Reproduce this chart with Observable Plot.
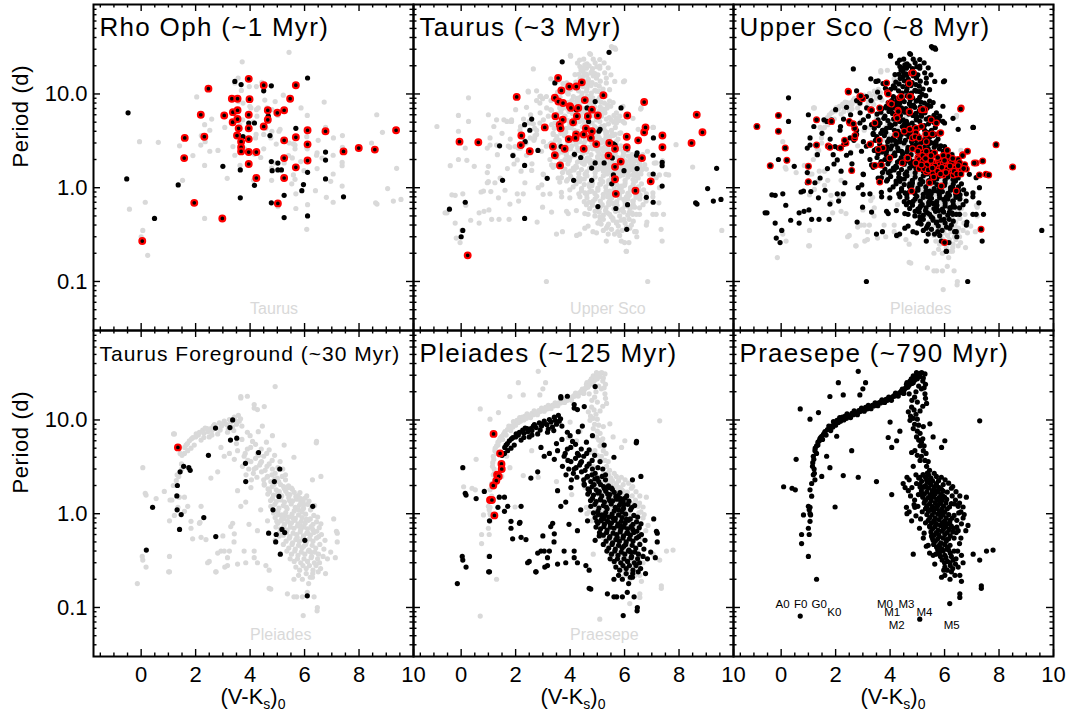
<!DOCTYPE html>
<html><head><meta charset="utf-8">
<script src="https://cdn.jsdelivr.net/npm/d3@7"></script>
<script src="https://cdn.jsdelivr.net/npm/@observablehq/plot@0.6"></script>
<style>
body{margin:0;background:#fff;}
#wrap{position:relative;width:1073px;height:721px;font-family:"Liberation Sans",Arial,sans-serif;}
.xlab{position:absolute;top:688px;width:320px;text-align:center;font-size:22px;line-height:18px;color:#000;}
.xlab sub{font-size:14px;vertical-align:-5px;line-height:0;}
</style></head><body><div id="wrap"></div>
<script>
// ---------------- tick values ----------------
const xMajor = [0, 2, 4, 6, 8, 10];
const xMinor = [-1.5,-1,-0.5,0.5,1,1.5,2.5,3,3.5,4.5,5,5.5,6.5,7,7.5,8.5,9,9.5];
const yMajor = [0.1, 1, 10];
const yMinor = [0.04,0.05,0.06,0.07,0.08,0.09,0.2,0.3,0.4,0.5,0.6,0.7,0.8,0.9,2,3,4,5,6,7,8,9,20,30,40,50,60,70,80];

// ---------------- data: [V-Ks, Period (d)] ----------------
const rhoOph = [[-0.48,6.3],[-0.53,1.24],[0.49,0.47],[1.36,1.07],[3.0,1.69],[3.44,13.6],[3.67,12.6],[4.5,10.8],[4.78,12.2],[6.11,14.8],[3.95,4.9],[4.16,4.9],[4.67,5.8],[4.73,3.6],[5.68,4.3],[6.77,2.4],[6.77,1.97],[4.78,1.9],[5.02,1.83],[4.81,1.52],[5.02,1.55],[5.15,1.55],[3.64,1.55],[6.11,1.46],[4.16,1.06],[5.96,1.08],[5.9,0.93],[6.77,1.24],[3.64,0.78],[4.78,0.69],[5.25,0.83],[5.25,0.48],[6.11,0.5],[7.43,0.8],[3.58,3.65],[3.74,3.5]];
const rhoOphDisk = [[3.95,14.5],[2.47,11.4],[4.5,12.4],[5.68,12.4],[3.33,8.9],[3.54,8.9],[3.98,8.8],[5.47,8.9],[2.19,6.0],[3.05,5.9],[3.37,6.4],[3.54,6.7],[3.95,6.0],[4.65,6.7],[5.25,6.7],[5.0,6.3],[3.36,5.0],[3.54,5.4],[4.65,5.3],[4.5,4.5],[3.58,4.3],[3.95,4.3],[1.6,3.4],[2.32,3.5],[3.52,3.6],[3.95,3.3],[3.67,3.1],[3.67,2.7],[3.67,2.44],[3.95,2.4],[4.23,2.4],[5.25,3.2],[5.68,3.45],[6.11,4.1],[6.77,4.0],[6.11,2.9],[7.43,2.44],[7.99,2.65],[8.58,2.55],[9.36,4.1],[1.58,2.07],[5.25,2.07],[3.95,1.79],[5.68,1.65],[6.11,1.95],[4.23,1.27],[5.25,1.27],[1.95,0.69],[5.02,0.68],[2.98,0.47],[0.04,0.27]];

const taurus = [[5.43,27.8],[3.71,22],[3.44,13.1],[2.59,5.4],[2.33,4.7],[2.52,4.1],[2.35,3.1],[2.82,2.5],[1.9,2.2],[1.41,2.8],[2.33,1.73],[1.52,1.2],[0.15,0.7],[-0.43,0.59],[0.06,0.35],[0.0,0.3],[2.33,0.47],[3.16,1.26],[3.67,2.75],[4.16,2.27],[4.39,2.1],[4.13,1.2],[4.79,1.2],[4.79,1.62],[4.92,1.84],[4.92,8.3],[4.23,6.8],[4.62,7.1],[4.68,5.1],[5.06,4.0],[5.1,4.2],[5.25,1.84],[5.55,2.08],[5.65,2.85],[5.87,7.1],[6.1,2.6],[6.46,2.35],[6.44,2.22],[6.46,1.6],[7.06,3.4],[7.05,2.22],[7.05,1.4],[7.38,1.86],[7.38,1.72],[7.38,1.04],[5.59,1.37],[5.98,1.52],[5.53,1.1],[5.02,0.63],[5.68,0.6],[6.11,0.66],[6.8,0.79],[7.05,0.7],[6.08,0.36],[8.61,0.69],[8.66,0.67],[9.05,0.98],[9.26,0.72],[9.38,1.61],[9.54,0.75],[5.59,2.93]];
const taurusDisk = [[-0.06,3.1],[0.63,3.05],[0.24,0.19],[2.04,9.3],[3.07,4.4],[2.21,3.6],[2.19,2.85],[2.52,2.45],[3.37,2.75],[3.44,2.22],[3.63,1.73],[3.8,2.6],[3.56,14.8],[3.68,10.9],[3.44,9.1],[3.57,8.3],[3.97,12.0],[4.23,12.0],[4.43,13.3],[3.74,8.0],[3.99,7.4],[4.03,7.1],[4.3,7.1],[3.46,5.8],[3.73,5.3],[3.62,4.7],[3.65,4.3],[4.11,5.0],[4.25,5.8],[4.54,8.6],[4.8,6.8],[4.65,5.8],[5.02,5.9],[5.22,9.7],[4.58,4.3],[4.8,4.0],[4.22,3.7],[3.95,3.3],[4.2,3.4],[4.5,3.7],[4.76,3.4],[4.96,2.92],[4.5,2.6],[5.44,3.0],[5.65,2.6],[6.08,2.7],[6.08,3.5],[6.5,3.2],[6.72,3.9],[6.77,4.4],[6.1,5.9],[6.72,8.2],[7.39,3.6],[7.39,2.7],[5.41,2.2],[5.65,1.67],[5.86,1.9],[5.65,1.23],[5.68,0.86],[6.64,2.07],[6.4,0.93],[6.96,1.17],[8.46,3.0],[8.65,6.0],[8.86,3.9]];

const upperSco = [[2.65,18.5],[0.27,9.1],[0.27,5.1],[-0.1,2.0],[0.48,1.69],[-0.34,0.84],[-0.22,0.83],[-0.59,0.54],[-0.52,0.54],[0.06,0.86],[0.17,0.65],[-0.22,0.42],[0.02,0.35],[-0.18,0.29],[-0.04,0.26],[0.35,0.45],[0.66,0.42],[0.66,0.54],[0.84,0.56],[1.02,0.58],[0.82,0.92],[0.73,0.9],[1.09,0.91],[1.12,0.46],[1.39,0.46],[1.76,0.46],[0.96,1.13],[0.96,1.45],[0.96,2.65],[1.06,3.4],[1.0,6.0],[1.06,2.85],[1.33,2.25],[1.24,1.13],[1.43,1.27],[1.37,0.78],[1.57,5.3],[1.61,0.94],[1.79,0.67],[1.85,5.3],[1.91,2.25],[1.94,1.79],[2.06,1.98],[2.1,2.65],[2.34,1.13],[2.06,0.86],[2.28,0.86],[2.11,0.72],[2.18,4.5],[2.29,5.4],[2.55,6.0],[2.77,10.8],[2.89,8.0],[3.13,9.4],[2.89,4.9],[3.07,4.4],[2.77,3.7],[2.67,3.2],[2.55,2.35],[2.4,2.22],[2.95,2.45],[3.13,2.77],[3.01,1.4],[2.96,1.07],[3.01,0.85],[2.99,0.62],[3.32,0.55],[2.79,0.43],[3.72,0.34],[3.5,0.32],[3.13,0.1],[3.29,14.5],[3.48,13.6],[4.01,25.8],[4.72,27],[5.57,31],[5.67,30],[5.09,19.8],[4.35,23],[4.54,20.5],[5.96,13.5],[5.33,14.8],[3.74,12.9],[3.54,10.5],[3.83,11.5],[3.87,7.1],[3.56,5.3],[3.38,3.8],[3.5,2.6],[3.26,2.0],[3.32,1.75],[3.68,1.28],[3.87,1.18],[3.68,0.89],[3.99,0.78],[3.93,0.53],[4.23,0.57],[4.54,0.53],[4.54,0.37],[4.35,0.32],[4.84,0.34],[5.09,0.49],[5.33,0.37],[5.63,0.32],[5.88,0.27],[6.06,0.21],[6.16,0.26],[6.45,0.3],[6.37,0.34],[6.82,0.43],[7.04,0.52],[7.38,0.27],[7.43,0.52],[7.26,0.69],[7.06,4.4],[5.94,5.1],[5.82,5.8],[6.85,0.1],[9.57,0.35],[5.09,0.61],[5.45,0.72],[5.7,0.61],[6.3,0.52],[6.55,0.61],[6.79,0.72],[6.3,0.72],[7.04,0.88],[7.28,1.0],[6.91,1.39],[7.16,1.28],[7.39,1.93],
[5.52,32],[5.64,31],[4.02,25.3],[4.75,26.5],[5.09,23.3],[4.36,19.6],[4.6,18.8],[5.09,18.8],[5.27,16.8],[4.18,16.1],[4.48,15.4],[4.97,14.8],[5.33,13.1],[5.64,13.6],[3.56,13.8],[6.0,13.8],[4.18,11.6],[4.6,10.7],[4.97,10.7],[5.45,11.1],[5.09,9.2],[5.58,8.1],[5.94,7.4],[3.63,9.2],[4.24,8.5],[4.72,7.8],[4.42,7.1],[2.77,8.5],[3.14,7.1],[3.32,4.7],[3.02,5.3],[1.68,5.1],[4.97,5.5],[5.15,5.8],[5.7,6.3],[6.0,4.9],[6.31,5.5],[6.5,4.2],[7.04,4.4],[4.6,5.1],[3.99,4.7],[3.75,4.1],[4.36,3.4],[4.05,3.2],[4.79,3.1],[5.45,3.1],[5.7,2.85],[6.0,2.75],[3.38,3.7],[2.77,4.1],[3.02,3.1],[2.53,3.4],[2.16,4.1],[1.98,2.75],[3.87,2.45],[4.18,2.2],[4.42,2.45],[4.6,1.93],[4.24,1.65],[3.93,1.45],[3.38,1.65],[3.02,1.38],[3.56,1.27],[2.83,1.0],[3.26,0.86],[3.69,0.8],[3.99,0.95],[4.36,0.8],[4.6,0.66],[4.85,0.72],[5.39,0.8],[5.7,0.66],[5.45,0.52],[5.94,0.56],[6.19,0.61],[6.43,0.52],[5.7,0.42],[5.09,0.44],[4.66,0.39],[6.19,0.37],[6.43,0.34],[5.82,0.31],[5.33,0.27],[6.07,0.21],[4.97,0.33],[6.8,0.4],[7.16,0.52],[7.04,0.8],[6.8,0.86],[3.87,0.56],[4.24,0.31],[4.66,0.52],[4.36,1.17],[4.72,1.1],[5.09,1.1],[5.45,0.92],[5.82,0.99],[6.31,0.99],[6.56,0.76],[6.07,0.8],
[4.12,9.4],[4.45,8.8],[4.83,9.1],[5.02,8.6],[5.31,9.6],[3.93,8.1],[4.21,7.7],[4.52,8.3],[4.71,7.9],[5.13,8.2],[5.38,7.6],[3.71,7.0],[4.03,6.8],[4.33,7.3],[4.62,6.7],[4.91,7.2],[5.22,6.9],[5.49,7.4],[3.52,6.1],[3.81,5.8],[4.09,6.2],[4.38,5.9],[4.69,6.1],[4.98,5.7],[5.28,6.3],[5.61,5.9],[3.63,4.9],[3.92,5.2],[4.19,4.8],[4.48,5.3],[4.81,4.9],[5.09,5.1],[5.41,4.8],[5.79,5.2],[3.42,4.3],[3.72,4.1],[4.01,4.4],[4.29,4.0],[4.58,4.3],[4.88,4.1],[5.19,4.4],[5.52,4.1],[3.51,3.5],[3.79,3.6],[4.12,3.4],[4.41,3.7],[4.69,3.5],[5.02,3.6],[5.31,3.4],[5.58,3.6],[3.31,3.0],[3.62,2.9],[3.91,3.1],[4.22,2.9],[4.51,3.0],[4.82,2.8],[5.12,3.0],[5.41,2.9],[5.69,3.1],[3.42,2.5],[3.71,2.4],[4.02,2.6],[4.31,2.5],[4.61,2.4],[4.92,2.6],[5.21,2.5],[5.52,2.4],[5.81,2.6],[6.12,2.5],[3.52,2.1],[3.81,2.0],[4.12,2.2],[4.41,2.1],[4.72,2.0],[5.01,2.15],[5.31,2.05],[5.61,2.2],[5.92,2.1],[6.21,2.0],[3.61,1.75],[3.92,1.8],[4.21,1.7],[4.52,1.78],[4.81,1.72],[5.12,1.8],[5.41,1.74],[5.72,1.77],[6.02,1.71],[6.31,1.79],[3.72,1.45],[4.01,1.5],[4.32,1.42],[4.61,1.48],[4.92,1.44],[5.22,1.5],[5.51,1.43],[5.82,1.47],[6.11,1.45],[6.42,1.5],[3.91,1.22],[4.22,1.18],[4.52,1.24],[4.82,1.2],[5.12,1.23],[5.42,1.19],[5.71,1.24],[6.02,1.2],[6.31,1.22],[4.11,1.02],[4.42,0.98],[4.71,1.03],[5.02,0.99],[5.31,1.02],[5.62,0.98],[5.91,1.03],[6.22,1.0],[6.51,1.02],[4.32,0.86],[4.61,0.84],[4.91,0.87],[5.22,0.85],[5.51,0.86],[5.81,0.84],[6.12,0.87],[6.41,0.85],[4.52,0.71],[4.81,0.69],[5.11,0.72],[5.42,0.7],[5.71,0.71],[6.02,0.69],[6.32,0.72],[4.72,0.6],[5.02,0.59],[5.32,0.61],[5.61,0.6],[5.92,0.59],[6.22,0.61],[4.91,0.5],[5.22,0.51],[5.51,0.49],[5.82,0.5],[6.12,0.51],[5.02,0.42],[5.41,0.41],[5.72,0.43],[6.02,0.42],[5.22,0.35],[5.52,0.36],[5.91,0.35],[4.02,11.2],[4.31,10.8],[4.62,11.4],[4.91,10.9],[5.21,11.3],[4.21,13.4],[4.52,13.8],[4.81,13.2],[5.11,13.7],[4.32,16.2],[4.62,15.8],[4.91,16.5],[4.52,19.1],[4.82,18.6],
[1.5,3.8],[1.8,3.3],[2.3,2.9],[2.6,1.8],[2.2,1.5],[1.7,1.6],[2.9,6.3],[3.2,5.8],[2.4,7.2],[3.3,8.5],[2.0,6.8],[1.2,4.5],
[4.27,9.0],[4.63,9.5],[4.96,8.4],[5.18,9.9],[4.06,8.5],[4.36,8.0],[4.86,7.6],[5.26,8.0],[3.86,7.4],[4.17,7.1],[4.47,6.6],[4.77,7.4],[5.07,6.6],[5.36,7.1],[3.66,6.4],[3.96,6.5],[4.24,5.6],[4.54,6.4],[4.84,5.9],[5.14,6.1],[5.44,5.6],[3.77,5.5],[4.06,4.6],[4.35,5.1],[4.66,4.7],[4.96,5.3],[5.26,4.6],[5.6,5.0],[3.57,4.6],[3.87,4.3],[4.16,4.1],[4.45,4.5],[4.74,3.9],[5.04,4.3],[5.36,3.9],[5.66,4.4],[3.66,3.8],[3.96,3.3],[4.27,3.6],[4.56,3.2],[4.86,3.4],[5.16,3.2],[5.46,3.5],[5.76,3.3],[3.46,3.2],[3.77,2.7],[4.06,2.8],[4.36,3.1],[4.66,2.7],[4.96,2.9],[5.26,2.7],[5.56,3.0],[5.86,2.8],[3.56,2.3],[3.86,2.25],[4.17,2.35],[4.46,2.3],[4.77,2.25],[5.07,2.3],[5.37,2.25],[5.66,2.35],[5.97,2.3],[6.27,2.25],[3.67,1.9],[3.97,1.95],[4.27,1.88],[4.57,1.95],[4.87,1.9],[5.17,1.95],[5.47,1.9],[5.77,1.95],[6.07,1.88],[6.37,1.93],[3.81,1.58],[4.12,1.62],[4.42,1.56],[4.72,1.62],[5.02,1.57],[5.32,1.63],[5.62,1.56],[5.92,1.61],[6.22,1.58],[6.52,1.62],[4.02,1.32],[4.32,1.29],[4.62,1.34],[4.92,1.3],[5.22,1.34],[5.52,1.3],[5.82,1.33],[6.12,1.3],[6.42,1.33],[4.22,1.1],[4.52,1.08],[4.82,1.12],[5.12,1.09],[5.42,1.11],[5.72,1.08],[6.02,1.12],[6.32,1.09],[6.62,1.1],[4.42,0.93],[4.72,0.91],[5.02,0.94],[5.32,0.92],[5.62,0.93],[5.92,0.91],[6.22,0.94],[6.52,0.92],[4.62,0.78],[4.92,0.76],[5.22,0.79],[5.52,0.77],[5.82,0.78],[6.12,0.76],[6.42,0.79],[4.82,0.65],[5.12,0.64],[5.42,0.66],[5.72,0.65],[6.02,0.64],[6.32,0.66],[5.07,0.55],[5.37,0.54],[5.67,0.56],[5.97,0.55],[6.27,0.54],[5.22,0.46],[5.57,0.47],[5.87,0.45],[6.17,0.46],[5.37,0.39],[5.77,0.39],[6.07,0.38],[4.12,12.2],[4.47,12.0],[4.77,12.3],[5.07,12.1],[4.37,14.6],[4.67,14.3],[4.97,14.9],[4.47,17.4],[4.77,17.0],[5.02,16.0],[4.62,21.0],[4.92,21.5],[4.27,21.4],
[4.37,8.6],[4.74,8.7],[5.11,7.3],[5.45,8.4],[3.98,7.3],[4.58,7.0],[4.95,6.2],[5.33,5.4],[5.7,5.5],[4.13,5.4],[4.53,4.8],[4.9,4.5],[5.27,4.1],[5.65,3.7],[3.84,3.9],[4.2,3.15],[4.6,3.75],[4.95,3.25],[5.28,3.05],[5.62,2.7],[5.95,2.45],[3.88,2.75],[4.28,2.65],[4.65,2.55],[5.03,2.75],[5.4,2.6],[3.95,2.1],[4.35,1.95],[4.75,1.82],[5.1,1.68],[5.47,1.82],[5.85,1.7],[6.2,1.62],[4.15,1.55],[4.55,1.4],[4.95,1.6],[5.35,1.4],[5.75,1.38],[6.15,1.36],[6.5,1.27],[4.38,1.25],[4.8,1.05],[5.2,1.16],[5.6,1.15],[6.0,1.06],[6.4,1.18],[6.7,0.95],[4.55,0.88],[4.98,0.81],[5.38,0.86],[5.77,0.91],[6.18,0.83],[6.57,0.84],[4.7,0.7],[5.18,0.66],[5.58,0.68],[5.97,0.75],[6.37,0.62],[6.68,0.66],[4.92,0.56],[5.3,0.57],[5.78,0.57],[6.18,0.55],[6.55,0.52],[5.14,0.41],[5.58,0.45],[5.98,0.46],[6.32,0.44],[5.4,0.32],[5.75,0.34],[6.25,0.4],[4.44,10.2],[4.78,10.2],[5.08,10.6],[4.33,12.8],[4.64,12.6],[4.95,12.6],[4.58,16.4],[4.85,15.6],[4.4,18.0],[4.7,20.0],[4.98,19.5],[4.5,23.5],[4.85,23.5],[5.25,21.5],[5.4,19.0],[5.5,16.0]];
const upperScoDisk = [[-0.89,4.5],[-0.1,5.9],[-0.1,4.0],[0.15,2.65],[0.21,1.96],[-0.4,1.72],[1.0,1.69],[1.0,1.16],[1.3,5.3],[1.3,2.85],[1.73,2.78],[2.18,2.65],[1.83,5.1],[2.46,10.7],[2.89,9.4],[2.99,8.9],[2.52,4.9],[2.7,4.3],[2.7,3.4],[2.59,1.53],[2.38,3.0],[3.29,6.8],[3.44,4.9],[3.28,2.9],[3.62,7.1],[3.74,2.65],[3.99,2.07],[3.68,1.75],[3.62,1.15],[3.87,13.1],[3.9,10.3],[3.99,8.0],[4.35,9.1],[4.29,6.7],[4.23,5.8],[4.21,3.7],[4.45,1.84],[4.63,2.07],[4.72,4.2],[4.7,13.1],[4.79,16.7],[4.76,9.4],[4.7,6.5],[4.79,0.92],[4.96,4.3],[5.15,6.8],[5.27,6.8],[5.51,5.3],[5.7,4.9],[5.82,3.8],[5.33,3.1],[5.09,2.65],[5.02,2.07],[5.45,1.13],[5.88,1.04],[6.43,0.92],[6.61,7.1],[6.67,2.25],[7.16,1.84],[7.4,1.93],[7.52,1.39],[7.62,1.37],[7.89,2.88],[8.5,1.66],[7.34,0.36],[6.0,0.26],
[4.85,16.8],[4.7,12.9],[3.93,10.0],[4.05,7.8],[4.72,9.4],[4.41,9.4],[2.47,10.5],[2.92,9.5],[3.32,6.7],[4.3,6.5],[4.26,5.5],[4.72,6.4],[5.2,6.8],[5.15,4.5],[4.52,4.0],[4.95,3.85],[4.82,3.4],[4.92,3.5],[5.07,3.4],[5.31,3.75],[5.55,3.75],[5.86,3.85],[6.59,6.9],[6.1,2.5],[6.84,2.45],[6.66,2.2],[7.09,1.83],[3.44,1.73],[1.79,2.7],[2.5,5.1],[2.65,4.8],[2.71,3.6],[1.85,5.1],[2.33,3.2],[3.6,3.2],[3.26,2.9],[3.57,2.55],[4.82,2.6],[4.65,2.07],
[5.45,2.08],[5.7,1.83],[6.07,1.7],[6.32,1.76],[6.56,1.7],[6.74,1.76],[6.8,1.58],[6.43,1.54],[6.19,1.54],[5.94,1.48],[5.63,1.54],[5.45,1.7],[5.33,1.48],[5.07,1.6],[5.82,1.93],[5.57,1.83],[6.19,1.93],[6.5,2.0],[5.07,2.0],[5.2,2.2],[4.95,1.83],[6.32,1.37],[5.94,1.37],[5.57,1.42],[5.7,1.65],[6.0,1.6],[5.82,1.76],[6.25,1.65],[6.62,1.54],[6.13,2.17],[5.63,2.35],[5.33,2.45],[5.02,2.45],[7.28,1.37],
[5.2,1.9],[5.35,1.75],[5.5,1.95],[5.65,1.7],[5.8,1.6],[5.95,1.8],[6.1,1.58],[6.25,1.85],[6.4,1.62],[6.55,1.85],[6.7,1.6],[5.25,1.6],[5.4,1.55],[5.55,1.62],[5.75,1.5],[5.9,1.65],[6.05,1.45],[6.2,1.7],[6.35,1.5],[6.5,1.72],[5.15,1.75],[5.3,2.05],[5.5,2.2],[5.75,2.1],[5.95,2.2],[6.0,1.95],[6.3,2.05],[6.45,1.4],[5.85,1.4],[5.6,1.3],[6.6,1.4]];

const taurusFg = [[3.36,10.0],[2.73,8.2],[3.26,8.3],[3.28,6.1],[3.51,6.4],[2.47,4.2],[4.31,4.5],[3.83,3.45],[1.56,3.2],[1.75,3.1],[1.8,2.9],[1.43,2.8],[5.09,3.0],[3.84,2.2],[4.89,2.2],[1.33,2.0],[1.31,1.55],[5.06,1.53],[1.32,1.1],[0.42,1.17],[4.84,1.1],[6.3,1.2],[1.47,0.98],[2.3,0.91],[1.41,0.68],[2.74,0.57],[4.68,0.62],[4.96,0.6],[4.94,0.5],[5.17,0.68],[5.27,0.63],[5.11,0.37],[6.01,0.52],[0.19,0.41],[6.1,0.133]];
const taurusFgDisk = [[1.35,5.1]];

const pleiades = [[1.22,7.1],[1.65,5.4],[1.77,6.0],[1.9,6.5],[2.02,7.1],[2.14,7.4],[2.26,7.8],[2.42,8.1],[2.56,8.1],[2.69,8.9],[2.87,9.3],[3.05,9.7],[3.24,10.1],[3.42,10.7],[3.57,11.2],[3.6,9.7],[1.83,5.0],[1.71,4.7],[1.59,4.4],[1.95,5.4],[2.2,6.1],[2.5,6.6],[2.81,7.1],[3.17,7.4],[3.66,17.2],[3.9,17.9],[4.15,14.6],[4.27,12.9],[4.52,13.9],[4.92,22.7],[3.9,7.4],[4.09,5.9],[4.45,8.6],[4.82,6.8],[5.25,5.4],[5.61,4.0],[6.43,5.7],[6.29,2.3],[2.93,5.1],[3.05,4.1],[3.24,4.4],[3.42,3.8],[3.54,4.7],[3.72,3.2],[3.78,4.1],[4.03,3.6],[4.15,3.0],[4.27,4.4],[4.39,3.5],[4.64,2.5],[4.52,2.07],[4.7,1.8],[4.82,3.0],[5.0,2.4],[4.03,1.9],[3.54,1.76],[3.84,1.33],[3.66,1.2],[3.36,0.79],[3.42,0.61],[2.93,0.4],[3.24,0.4],[2.44,0.3],[2.75,0.24],[2.2,0.56],[1.83,0.7],[2.14,0.79],[1.71,1.2],[1.4,1.5],[1.59,1.5],[2.2,1.2],[1.59,1.06],[2.56,2.4],[2.81,2.8],[0.06,3.1],[0.18,1.58],[0.55,1.45],[1.35,1.17],[0.06,0.32],[0.18,0.27],[1.04,0.24],[-0.14,0.18],[4.7,0.16],[5.71,0.13],[5.92,0.13],[6.35,0.13],[6.47,0.1],[4.92,0.52],[5.07,0.58],[4.27,0.3],[4.15,0.4],[3.78,0.4],[3.54,0.29],[3.17,0.28],[4.58,0.28],[4.7,0.25],[2.81,0.38],[3.29,0.73],[3.96,0.77],[4.27,0.66],[4.64,0.84],[4.95,0.72],[5.25,0.88],[4.39,1.1],[4.76,1.2],[5.13,1.4],[5.43,1.9],[5.86,1.45],[6.6,2.5],[7.2,0.62],[7.2,0.5],[6.96,0.39],[6.84,0.33],[6.59,0.26],[6.29,0.21],[5.61,0.2],
[3.66,17.7],[4.15,13.4],[6.44,5.9],[7.07,0.88],[7.17,0.65],[7.13,0.34],[6.77,0.23],[6.46,0.092],[5.95,0.082],[5.61,0.13],[5.37,0.14],[6.1,0.145],[4.76,0.157],[1.01,0.24],[1.04,0.35],[0.04,0.35],[0.15,1.65],[0.85,1.73],[1.04,0.84],[1.83,0.83],[2.16,0.81],[1.89,0.54],[2.38,0.53],[2.5,0.31],[2.74,0.24],[3.07,0.27],[3.17,0.34],[3.84,0.3],[4.15,0.34],[3.41,0.5],[3.0,0.58],[3.05,0.4],
[4.62,2.45],[4.91,2.35],[5.18,2.5],[4.52,2.02],[4.81,1.95],[5.12,2.05],[5.41,1.98],[4.71,1.72],[5.02,1.66],[5.31,1.74],[5.62,1.69],[4.82,1.46],[5.11,1.42],[5.42,1.48],[5.71,1.43],[6.02,1.47],[4.91,1.26],[5.22,1.22],[5.51,1.27],[5.81,1.23],[6.12,1.26],[5.02,1.06],[5.31,1.03],[5.62,1.07],[5.91,1.04],[4.92,0.91],[5.16,0.88],[5.42,0.92],[5.66,0.89],[5.91,0.91],[6.21,0.88],[5.02,0.79],[5.26,0.77],[5.52,0.8],[5.76,0.78],[6.02,0.79],[6.31,0.77],[5.12,0.69],[5.36,0.67],[5.61,0.7],[5.86,0.68],[6.11,0.69],[5.22,0.59],[5.46,0.57],[5.71,0.6],[5.96,0.58],[6.21,0.59],[6.52,0.57],[5.32,0.51],[5.56,0.49],[5.81,0.51],[6.06,0.5],[6.31,0.51],[5.42,0.43],[5.66,0.42],[5.91,0.43],[6.16,0.41],[6.41,0.43],[6.71,0.42],[5.52,0.37],[5.76,0.36],[6.01,0.37],[6.26,0.35],[6.51,0.37],[5.62,0.31],[5.86,0.3],[6.11,0.31],[6.36,0.3],[5.82,0.25],[6.06,0.26],[6.31,0.25],[5.92,0.2],[6.21,0.21],
[4.02,5.1],[4.41,4.9],[3.82,4.4],[4.32,4.2],[4.61,4.4],[3.92,3.7],[4.42,3.6],[4.81,3.7],[4.22,3.1],[4.62,3.2],[5.02,3.1],[4.12,2.7],[4.42,2.8],[4.92,2.7],[3.7,6.2],[4.0,6.8],[4.3,7.5],[3.5,5.6],[4.6,5.8],
[4.76,2.2],[5.05,2.2],[5.3,2.3],[4.66,1.84],[4.96,1.8],[5.26,1.86],[5.55,1.82],[4.86,1.58],[5.16,1.55],[5.46,1.6],[5.76,1.56],[4.96,1.35],[5.26,1.33],[5.56,1.37],[5.86,1.34],[6.16,1.36],[5.06,1.15],[5.36,1.13],[5.66,1.17],[5.96,1.14],[6.26,1.16],[5.04,0.98],[5.28,0.96],[5.54,0.99],[5.78,0.97],[6.04,0.99],[6.34,0.96],[5.14,0.84],[5.38,0.83],[5.64,0.85],[5.88,0.83],[6.14,0.85],[6.44,0.82],[5.24,0.73],[5.48,0.72],[5.74,0.74],[5.98,0.72],[6.24,0.73],[6.54,0.71],[5.34,0.63],[5.58,0.62],[5.84,0.64],[6.08,0.62],[6.34,0.63],[5.44,0.55],[5.68,0.53],[5.94,0.55],[6.18,0.54],[6.44,0.55],[5.54,0.47],[5.78,0.46],[6.04,0.47],[6.28,0.46],[6.56,0.47],[5.64,0.4],[5.88,0.39],[6.14,0.4],[6.38,0.39],[5.74,0.33],[5.98,0.33],[6.24,0.34],[6.48,0.33],[5.94,0.28],[6.18,0.28],[6.42,0.28],[6.06,0.23],[6.3,0.23],
[4.2,3.9],[4.5,4.1],[4.7,3.4],[4.35,3.3],[4.55,2.9],[4.8,2.6],[4.25,2.45],[4.5,2.3],[3.95,3.0],[4.05,2.3],[3.85,2.6],[4.7,4.8],[4.9,4.2],[5.1,3.6],[5.2,3.0],[5.3,2.6],[4.2,5.5],[3.9,4.9],
[1.85,6.3],[2.0,6.6],[2.1,6.9],[2.3,7.2],[2.35,8.2],[2.45,7.5],[2.6,7.7],[2.65,8.6],[2.75,8.3],[2.95,8.6],[3.0,9.1],[3.15,8.9],[3.3,9.5],[3.35,8.4],[3.45,9.9],[3.5,9.0],[3.65,10.3],[3.7,8.6],[2.3,6.5],[2.6,6.9],[2.9,7.8],[3.2,8.0],[3.4,7.7],[1.7,5.6],[1.6,5.1],[1.5,4.2],
[4.88,2.05],[5.07,1.72],[5.23,1.95],[5.38,1.62],[5.52,1.88],[5.68,1.52],[5.83,1.68],[5.97,1.25],[6.08,1.55],[6.22,1.1],[6.37,1.22],[6.48,0.92],[6.6,0.78],[6.45,0.65],[6.62,0.6],[6.75,0.52],[6.68,0.35],[6.55,0.3],[6.5,0.24],[6.15,0.18],[5.78,0.22],[5.68,0.27],[5.47,0.33],[5.35,0.4],[5.22,0.47],[5.08,0.63],[4.98,0.83],[4.86,1.02],[4.75,1.38],[4.65,1.62],[5.17,0.97],[5.47,0.78],[5.73,0.56],[5.97,0.45],[6.23,0.39],[6.12,0.62],[5.87,0.74],[5.58,0.9],[5.33,1.18],[5.78,1.1],[6.07,0.87],[6.3,0.68],[5.95,1.33],[5.45,1.38]];
const pleiadesDisk = [[1.19,7.1],[1.43,4.4],[1.48,3.4],[1.49,3.0],[1.32,2.6],[1.38,2.5],[1.29,2.25],[1.18,2.0],[1.06,1.4],[1.13,1.4],[1.22,0.96]];

const praesepe = [[1.06,1.17],[1.03,1.1],[1.08,0.97],[1.06,0.83],[1.0,0.7],[1.03,0.6],[0.75,0.6],[0.75,0.48],[1.0,0.35],[1.3,0.2],[1.12,1.54],[1.06,1.8],[1.24,2.3],[1.18,2.6],[1.21,3.0],[1.16,3.5],[1.18,4.1],[1.24,4.7],[1.3,5.3],[1.4,6.0],[1.49,6.7],[1.61,7.5],[1.79,8.2],[1.98,9.1],[2.22,10.2],[2.46,11.1],[2.71,12.0],[2.96,13.0],[3.2,13.8],[3.44,14.7],[3.69,15.9],[3.93,16.9],[4.18,18.6],[4.42,20.5],[4.6,24],[4.73,26],[4.85,29.5],[4.97,32],[5.16,32],[5.28,31],[5.28,19],[5.34,15],[4.79,13.7],[4.67,12.2],[4.73,9.9],[4.85,8.1],[4.97,6.6],[5.1,5.3],[5.22,4.7],[5.28,3.7],[4.91,4.7],[4.79,4.5],[5.1,3.7],[5.34,3.2],[5.34,2.3],[5.1,1.93],
[2.83,33],[2.1,25],[3.1,25],[3.0,21.5],[2.89,18.5],[1.79,17.8],[2.28,18.5],[0.7,13.1],[1.37,12],[1.06,10.2],[2.04,6.7],[2.59,4.7],[4.0,9.5],[4.24,6.0],[4.36,7.6],[4.06,5.1],[3.93,6.5],[0.55,3.8],[1.67,4.1],[1.79,3.1],[1.49,2.5],[2.28,2.55],[2.83,2.45],[3.5,2.2],[4.06,1.6],[1.98,1.18],[0.09,1.94],[0.4,1.87],[0.52,1.8],[0.82,0.97],[1.06,1.0],[1.0,1.2],[7.29,9.8],[6.01,6.0],[5.46,9.1],[5.22,8.5],[5.58,6.6],[5.89,5.1],[4.85,3.2],[4.79,0.84],[4.91,1.17],[5.04,1.6],[4.6,1.17],[4.62,1.0],[5.58,1.76],[5.89,1.82],[6.25,1.87],[6.56,1.55],[6.8,1.5],[6.37,1.27],[6.68,0.9],[6.19,0.8],[6.43,0.63],[6.86,0.75],[7.05,0.37],[7.54,0.4],[7.78,0.41],[7.29,0.32],[6.68,0.3],[6.56,0.22],[6.62,0.19],[7.35,0.17],[6.56,0.14],[5.89,0.21],[6.25,0.24],[6.01,0.22],[5.64,0.29],[5.58,0.36],[5.4,0.46],[5.58,0.52],[5.83,0.44],[6.07,0.53],[4.85,0.37],[5.22,0.55],[5.46,0.72],[5.95,0.68],[5.34,1.17],[5.58,1.1],[5.83,1.38],[5.52,1.49],[5.28,1.93],[5.4,2.3],[5.7,2.1],[4.97,2.1],[5.1,2.45],[4.48,2.1],[4.67,1.76],[5.16,1.6],[5.28,1.38],[0.7,0.081],[5.09,0.075],[6.19,0.11],[7.35,0.16],[6.56,0.128],
[1.35,5.8],[1.45,6.5],[1.55,7.0],[1.7,7.9],[1.85,8.6],[1.92,9.6],[2.1,9.4],[2.15,10.6],[2.3,10.0],[2.35,11.0],[2.55,10.6],[2.6,11.8],[2.8,11.4],[2.85,12.6],[3.05,12.4],[3.1,13.6],[3.3,13.2],[3.35,14.3],[3.55,14.2],[3.6,15.3],[3.8,15.4],[3.85,16.6],[4.05,16.2],[4.1,17.8],[4.3,18.0],[4.35,19.6],[4.5,19.2],[4.55,21.6],[4.65,22.4],[4.7,19.0],[4.8,24.5],[4.9,26.5],[5.0,27.5],[5.1,29],[5.2,26],[5.05,23],[5.15,21.5],[4.95,20],[4.9,17.5],[5.0,15.5],[4.8,16.2],[4.75,11.0],[4.85,10.4],[4.9,9.0],[5.0,7.6],[5.05,6.1],[5.15,5.8],[1.2,3.8],[1.15,3.2],[1.22,2.7],[1.12,2.1],[1.3,4.4],
[5.21,2.62],[5.42,2.58],[5.16,2.22],[5.36,2.18],[5.56,2.24],[5.21,1.92],[5.41,1.88],[5.61,1.93],[5.81,1.9],[5.26,1.62],[5.46,1.58],[5.66,1.63],[5.86,1.6],[5.31,1.41],[5.51,1.38],[5.71,1.42],[5.91,1.39],[5.36,1.21],[5.56,1.19],[5.76,1.22],[5.96,1.2],[5.41,1.06],[5.61,1.04],[5.81,1.07],[6.01,1.05],[5.46,0.91],[5.66,0.89],[5.86,0.92],[6.06,0.9],[5.51,0.79],[5.71,0.77],[5.91,0.8],[6.11,0.78],[5.56,0.69],[5.76,0.67],[5.96,0.7],[6.16,0.68],[5.61,0.59],[5.81,0.57],[6.01,0.6],[6.21,0.58],[5.66,0.51],[5.86,0.49],[6.06,0.51],[5.71,0.44],[5.91,0.42],[6.11,0.44],[5.81,0.38],[6.01,0.36],[6.21,0.38],[5.91,0.32],[6.11,0.31],[6.31,0.32],[6.01,0.27],[6.21,0.28],
[1.25,5.0],[1.35,5.4],[1.42,6.3],[1.52,6.2],[1.58,7.2],[1.65,6.9],[1.75,8.6],[1.82,7.7],[1.9,8.4],[2.0,8.8],[2.05,9.9],[2.18,9.7],[2.25,10.7],[2.4,10.4],[2.42,11.6],[2.5,10.9],[2.65,11.4],[2.68,12.5],[2.75,11.7],[2.9,12.3],[2.95,13.4],[3.0,12.7],[3.15,13.1],[3.2,14.3],[3.25,13.5],[3.4,14.1],[3.45,15.2],[3.5,14.4],[3.65,15.2],[3.7,16.4],[3.75,15.6],[3.9,16.2],[3.95,17.5],[4.0,16.6],[4.15,17.9],[4.2,19.3],[4.25,18.2],[4.4,19.6],[4.45,21.3],[4.5,20.2],[4.58,22.0],[4.62,25.0],[4.7,23.5],[4.78,27.5],[4.85,25.0],[4.93,28.5],[5.02,30.5],[5.1,31.5],[5.22,28],[5.3,24],[5.25,22],[5.3,17],[5.2,14.0],[5.1,12.5],[4.95,11.5],[4.88,12.8],[5.0,10.2],[5.05,8.8],[5.1,7.2],[5.2,6.3],[5.25,5.3],[5.32,4.4],[5.4,3.6],[5.45,2.9],[5.0,4.2],[5.15,4.1],
[5.05,2.4],[5.3,2.45],[5.5,2.4],[5.7,2.5],[5.1,2.05],[5.3,2.0],[5.5,2.05],[5.7,2.0],[5.95,2.05],[5.15,1.75],[5.35,1.72],[5.55,1.76],[5.75,1.73],[5.95,1.74],[6.1,1.7],[5.2,1.5],[5.4,1.48],[5.6,1.52],[5.8,1.49],[6.0,1.5],[5.25,1.3],[5.45,1.28],[5.65,1.31],[5.85,1.29],[6.05,1.3],[6.25,1.28],[5.3,1.13],[5.5,1.11],[5.7,1.14],[5.9,1.12],[6.1,1.13],[5.35,0.98],[5.55,0.97],[5.75,0.99],[5.95,0.97],[6.15,0.98],[6.35,0.96],[5.4,0.85],[5.6,0.84],[5.8,0.86],[6.0,0.84],[6.2,0.85],[5.45,0.74],[5.65,0.73],[5.85,0.75],[6.05,0.73],[6.25,0.74],[6.45,0.72],[5.5,0.64],[5.7,0.63],[5.9,0.65],[6.1,0.63],[6.3,0.64],[5.55,0.55],[5.75,0.54],[5.95,0.55],[6.15,0.54],[6.35,0.55],[5.6,0.47],[5.8,0.46],[6.0,0.47],[6.2,0.46],[5.75,0.41],[5.95,0.4],[6.15,0.41],[6.35,0.4],[5.85,0.35],[6.05,0.34],[6.25,0.35],[6.0,0.3],[6.2,0.3],[6.4,0.29],[6.1,0.25],[6.3,0.26],[4.9,1.4],[4.8,1.9],[4.95,2.6],[4.7,2.3],[6.5,1.2],[6.6,1.05],[6.45,0.85],[6.6,0.55],
[4.62,2.45],[4.75,1.55],[4.88,1.25],[4.55,1.9],[4.7,1.05],[4.95,0.95],[5.02,1.2],[5.12,0.88],[5.18,1.05],[5.08,0.7],[5.25,0.62],[5.3,0.8],[5.33,0.45],[5.45,0.38],[5.52,0.58],[5.37,2.72],[5.62,2.7],[5.78,2.25],[5.88,2.45],[6.02,2.3],[6.15,2.12],[6.3,1.95],[6.42,1.72],[6.28,1.55],[6.4,1.4],[6.55,1.3],[6.68,1.18],[6.52,1.02],[6.72,0.98],[6.62,0.78],[6.78,0.66],[6.5,0.66],[6.55,0.48],[6.48,0.4],[6.62,0.36],[6.42,0.33],[6.5,0.27],[6.38,0.22],[6.2,0.2],[5.97,0.25],[5.68,0.37],[5.78,0.6],[5.63,0.81],[5.87,1.02],[5.73,1.25],[5.93,1.55],[5.63,1.82],[5.47,2.12],[6.08,1.42],[6.18,1.18],[6.28,0.9],[6.33,0.7],[6.08,0.42],[5.98,0.78],[5.53,1.63]];

// spectral-type annotations (Praesepe panel)
const specTypes = ["A0","F0","G0","K0","M0","M1","M2","M3","M4","M5"];
const specX     = [0.05, 0.72, 1.4, 1.95, 3.81, 4.08, 4.24, 4.6, 5.26, 6.26];
const specP     = [0.1076, 0.1076, 0.1076, 0.089, 0.1076, 0.089, 0.0653, 0.1076, 0.089, 0.0653];

// comparison-sample label anchor
const refLabelX = 4.0;
const refLabelP = 0.045;

// ---------------- panels ----------------
const panels = [
  {fx:"c1", fy:"r1", title:"Rho Oph (~1 Myr)",            ref:"Taurus",    own: rhoOph,   disk: rhoOphDisk,   grey: taurus.concat(taurusDisk)},
  {fx:"c2", fy:"r1", title:"Taurus (~3 Myr)",             ref:"Upper Sco", own: taurus,   disk: taurusDisk,   grey: upperSco.concat(upperScoDisk)},
  {fx:"c3", fy:"r1", title:"Upper Sco (~8 Myr)",          ref:"Pleiades",  own: upperSco, disk: upperScoDisk, grey: pleiades.concat(pleiadesDisk), thin: true},
  {fx:"c1", fy:"r2", title:"Taurus Foreground (~30 Myr)", ref:"Pleiades",  own: taurusFg, disk: taurusFgDisk, grey: pleiades.concat(pleiadesDisk), small: true},
  {fx:"c2", fy:"r2", title:"Pleiades (~125 Myr)",         ref:"Praesepe",  own: pleiades, disk: pleiadesDisk, grey: praesepe},
  {fx:"c3", fy:"r2", title:"Praesepe (~790 Myr)",         ref:null,        own: praesepe, disk: [],           grey: []}
];
const rowsOf = (list, key) => list.flatMap(p => p[key].map(([x, y]) => ({x, y, fx: p.fx, fy: p.fy})));

const W = 1073, H = 721;
const mL = 93, mR = 20, mT = 4, mB = 65;
const fw = (W - mL - mR) / 3, fh = (H - mT - mB) / 2;
const majLen = 7, minLen = 3.5;
const tickStyle = {stroke: "black", strokeWidth: 1.4};

const tickMarks = [];
for (const [vals, len] of [[xMajor, majLen], [xMinor, minLen]]) {
  tickMarks.push(Plot.ruleX(vals, {x: d => d, insetTop: fh - len, ...tickStyle}));
  tickMarks.push(Plot.ruleX(vals, {x: d => d, insetBottom: fh - len, ...tickStyle}));
}
for (const [vals, len] of [[yMajor, majLen], [yMinor, minLen]]) {
  tickMarks.push(Plot.ruleY(vals, {y: d => d, insetRight: fw - len, ...tickStyle}));
  tickMarks.push(Plot.ruleY(vals, {y: d => d, insetLeft: fw - len, ...tickStyle}));
}

const specRows = specTypes.map((t, i) => ({t, x: specX[i], y: specP[i], fx: "c3", fy: "r2"}));
const periodRows = [{fx: "c1", fy: "r1"}, {fx: "c1", fy: "r2"}];

const chart = Plot.plot({
  width: W, height: H,
  marginLeft: mL, marginRight: mR, marginTop: mT, marginBottom: mB,
  style: {fontFamily: "'Liberation Sans', Arial, sans-serif", fontSize: "22px", color: "black", background: "white", overflow: "visible"},
  fx: {domain: ["c1", "c2", "c3"], axis: null, padding: 0},
  fy: {domain: ["r1", "r2"], axis: null, padding: 0},
  x: {domain: [-1.75, 10]},
  y: {type: "log", domain: [0.03, 90]},
  marks: [
    Plot.dot(rowsOf(panels, "grey"), {x: "x", y: "y", fx: "fx", fy: "fy", r: 2.6, fill: "#d9d9d9"}),
    Plot.dot(rowsOf(panels, "own"), {x: "x", y: "y", fx: "fx", fy: "fy", r: 2.6, fill: "black"}),
    Plot.dot(rowsOf(panels.filter(p => !p.thin), "disk"), {x: "x", y: "y", fx: "fx", fy: "fy", r: 2.9, fill: "black", stroke: "red", strokeWidth: 2.1}),
    Plot.dot(rowsOf(panels.filter(p => p.thin), "disk"), {x: "x", y: "y", fx: "fx", fy: "fy", r: 2.9, fill: "black", stroke: "red", strokeWidth: 1.2}),
    ...tickMarks,
    Plot.frame({stroke: "black", strokeWidth: 2}),
    Plot.axisX({ticks: xMajor, tickSize: 0, tickPadding: 10, fontSize: 22, label: null, facetAnchor: "bottom"}),
    Plot.axisY({ticks: yMajor, tickSize: 0, tickPadding: 6, tickFormat: d => d.toFixed(1), fontSize: 22, label: null, facetAnchor: "left"}),
    Plot.text(panels.filter(p => !p.small), {fx: "fx", fy: "fy", text: "title", frameAnchor: "top-left", textAnchor: "start", lineAnchor: "top", dx: 6, dy: 13, fontSize: 26, fill: "black"}),
    Plot.text(panels.filter(p => p.small), {fx: "fx", fy: "fy", text: "title", frameAnchor: "top-left", textAnchor: "start", lineAnchor: "top", dx: 6, dy: 16, fontSize: 21, fill: "black"}),
    Plot.text(panels.filter(p => p.ref), {fx: "fx", fy: "fy", x: () => refLabelX, y: () => refLabelP, text: "ref", textAnchor: "start", lineAnchor: "bottom", fontSize: 16, fill: "#d9d9d9"}),
    Plot.text(specRows, {fx: "fx", fy: "fy", x: "x", y: "y", text: "t", fontSize: 11.5, fill: "black"}),
    Plot.text(periodRows, {fx: "fx", fy: "fy", text: () => "Period (d)", frameAnchor: "left", dx: -73, rotate: -90, fontSize: 22, fill: "black"})
  ]
});

// slightly wider letter spacing on panel titles
const titleSet = new Set(panels.map(p => p.title));
d3.select(chart).selectAll("text").each(function () {
  const t = this.textContent;
  if (titleSet.has(t)) this.setAttribute("letter-spacing", t.length > 20 ? "1px" : "1.3px");
  if (t === "Period (d)") this.setAttribute("letter-spacing", "0.6px");
});

const wrap = document.getElementById("wrap");
wrap.appendChild(chart);
// x-axis labels with subscripts
["c1", "c2", "c3"].forEach((c, i) => {
  const d = document.createElement("div");
  d.className = "xlab";
  d.style.left = (mL + i * fw) + "px";
  d.innerHTML = "(V-K<sub>s</sub>)<sub>0</sub>";
  wrap.appendChild(d);
});
</script>
</body></html>
